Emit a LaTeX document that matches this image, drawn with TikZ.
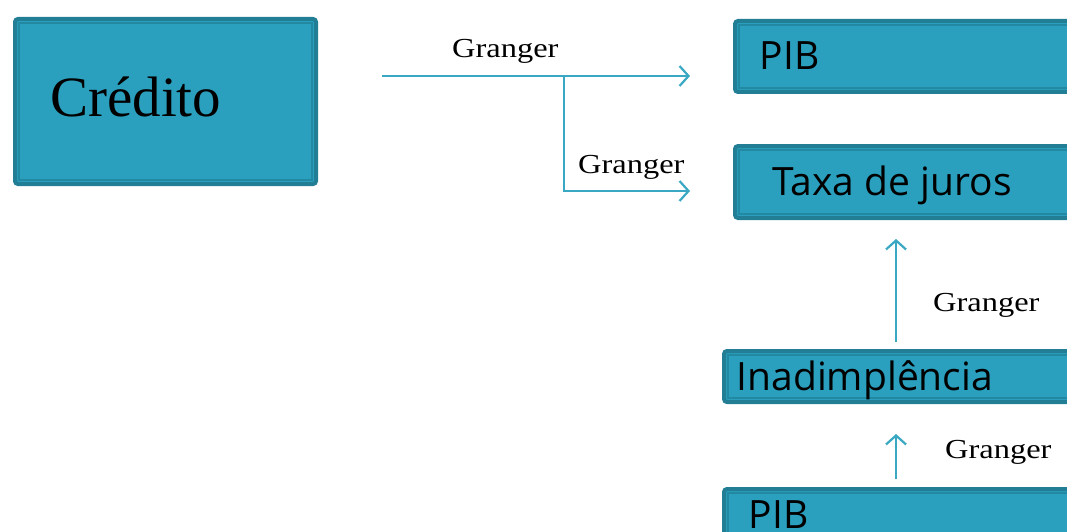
\documentclass[tikz,border=0pt]{standalone}
\usepackage{fontspec}
\setmainfont{Liberation Serif}
\newfontfamily\boxsans{Open Sans}
\usetikzlibrary{arrows.meta}
\definecolor{boxfill}{HTML}{2AA0BE}
\definecolor{boxedge}{HTML}{217E95}
\definecolor{boxline}{HTML}{2389A3}
\definecolor{linkcol}{HTML}{3AA8C3}
\tikzset{
  x=1pt, y=-1pt,
  box/.style={fill=boxfill, draw=boxedge, line width=4pt, rounded corners=3pt,
    inner sep=0pt, anchor=north west,
    path picture={\draw[boxline, line width=1.2pt, sharp corners]
      ([shift={(4pt,-4pt)}]path picture bounding box.north west) rectangle
      ([shift={(-4pt,4pt)}]path picture bounding box.south east);}},
  bigword/.style={inner sep=0pt, anchor=base west, font=\fontsize{57}{60}\selectfont},
  sansword/.style={inner sep=0pt, anchor=base west, font=\boxsans\fontsize{39}{44}\selectfont},
  tag/.style={inner sep=0pt, anchor=base west, font=\fontsize{27.5}{30}\selectfont},
  link/.style={draw=linkcol, line width=2.2pt, -{Straight Barb[length=9pt, width=20pt, line width=2.2pt]}},
}
\newcommand{\gtag}{\scalebox{1.18}[1]{Granger}}
\begin{document}
\begin{tikzpicture}
\useasboundingbox (0,0) rectangle (1067,532);

% boxes
\node[box, minimum width=301pt, minimum height=165pt] (cred) at (13,17) {};
\node[box, minimum width=360pt, minimum height=71pt] (pibA) at (733,19) {};
\node[box, minimum width=360pt, minimum height=72pt] (tax) at (733,144) {};
\node[box, minimum width=370pt, minimum height=51pt] (inad) at (722,349) {};
\node[box, minimum width=370pt, minimum height=71pt] (pibB) at (722,487) {};

% box texts
\node[bigword] (credtxt) at (50,117) {Crédito};
\node[sansword] (pibAtxt) at (759.5,70) {PIB};
\node[sansword] (taxtxt) at (772,195) {Taxa de juros};
\node[sansword] (inadtxt) at (736.5,390) {Inadimplência};
\node[sansword] (pibBtxt) at (748.5,528) {PIB};

% connector points
\coordinate (src) at (382,76);
\coordinate (fork) at (564,76);
\coordinate (endA) at (690,76);
\coordinate (endT) at (690,191);
\coordinate (col) at (896,0);

% connectors
\draw[link] (src) -- (endA);
\draw[link] (fork) |- (endT);
\draw[link] ([yshift=7pt]inad.north -| col) -- ([yshift=-19pt]tax.south -| col);
\draw[link] ([yshift=8pt]pibB.north -| col) -- ([yshift=-30pt]inad.south -| col);

% labels
\node[tag] (g1) at (452,58) {\gtag};
\node[tag] (g2) at (578,173) {\gtag};
\node[tag] (g3) at (933,311) {\gtag};
\node[tag] (g4) at (945,458) {\gtag};
\end{tikzpicture}
\end{document}
